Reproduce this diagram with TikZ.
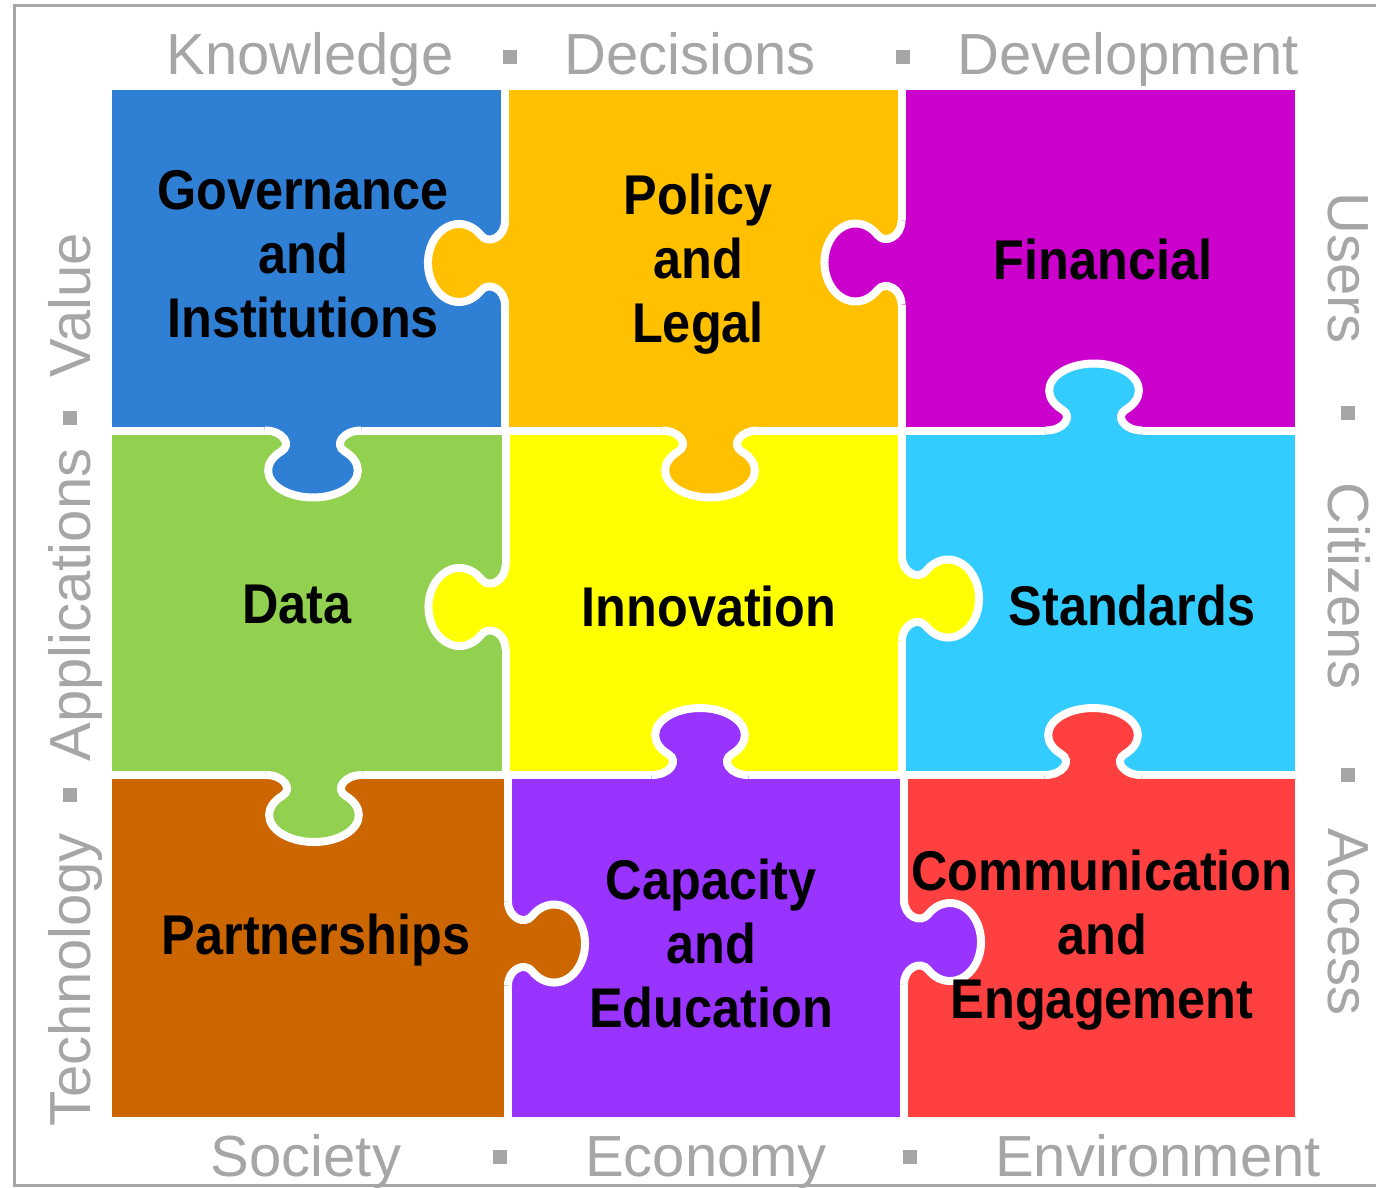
\documentclass[tikz,border=0pt]{standalone}
\usepackage{fontspec}
\setmainfont{Liberation Sans}
\newfontfamily\puzzlefont[FakeStretch=0.9]{Liberation Sans}
\usetikzlibrary{calc}
\definecolor{governance}{HTML}{2F80D5}
\definecolor{policy}{HTML}{FFC000}
\definecolor{financial}{HTML}{CC00CC}
\definecolor{data}{HTML}{92D050}
\definecolor{innovation}{HTML}{FFFF00}
\definecolor{standards}{HTML}{33CCFF}
\definecolor{partnerships}{HTML}{CC6600}
\definecolor{capacity}{HTML}{9933FF}
\definecolor{communication}{HTML}{FF4040}
\definecolor{sidegray}{HTML}{A6A6A6}
\def\knob[#1](#2)(#3){\begin{scope}[shift={(#2)}, xscale=1.15, rotate=#3]
		\fill[#1] (-42,-5) -- (-42,0) .. controls (-26,0) and (-18,14.2) .. (-27.6,20.9) arc[start angle=225, end angle=-45, x radius=39, y radius=27] .. controls (18,14.2) and (26,0) .. (42,0) -- (42,-5) -- cycle;
		\draw[white, line width=8pt] (-42,0) .. controls (-26,0) and (-18,14.2) .. (-27.6,20.9) arc[start angle=225, end angle=-45, x radius=39, y radius=27] .. controls (18,14.2) and (26,0) .. (42,0);
	\end{scope}}

\begin{document}
\begin{tikzpicture}[x=1pt, y=-1pt,
		lab/.style={font=\puzzlefont\bfseries\fontsize{56}{64}\selectfont, align=center, inner sep=0},
		side/.style={font=\fontsize{58}{64}\selectfont, text=sidegray, inner sep=0, anchor=base},
		sep/.style={fill=sidegray, minimum size=14pt, inner sep=0}]
		%%%%% START %%%%%
		\useasboundingbox (0,0) rectangle (1376,1187);
		\draw[line width=3pt, color=sidegray] (14.5,5.5) rectangle (1400,1185.5);
		
		\fill[governance] (112,90) rectangle (505,430.5);
		\fill[policy] (505,90) rectangle (901.5,430.5);
		\fill[financial] (901.5,90) rectangle (1295,430.5);
		\fill[data] (112,430.5) rectangle (505.5,775);
		\fill[innovation] (505.5,430.5) rectangle (902,775);
		\fill[standards] (902,430.5) rectangle (1295,775);
		\fill[partnerships] (112,775) rectangle (508,1117);
		\fill[capacity] (508,775) rectangle (904,1117);
		\fill[communication] (904,775) rectangle (1295,1117);
		
		\draw[white, line width=8pt] (112,430.5) -- (1295,430.5);
		\draw[white, line width=8pt] (112,775) -- (1295,775);
		\draw[white, line width=8pt] (505,90) -- (505,430.5);
		\draw[white, line width=8pt] (901.5,90) -- (901.5,430.5);
		\draw[white, line width=8pt] (505.5,430.5) -- (505.5,775);
		\draw[white, line width=8pt] (902,430.5) -- (902,775);
		\draw[white, line width=8pt] (508,775) -- (508,1117);
		\draw[white, line width=8pt] (904,775) -- (904,1117);
		
		\knob[policy](505,263)(-90)
		\knob[financial](901.5,262.5)(-90)
		\knob[governance](313,430.5)(0)
		\knob[policy](710,430.5)(0)
		\knob[standards](1094,430.5)(180)
		\knob[innovation](505.5,607)(-90)
		\knob[innovation](902,598.5)(90)
		\knob[capacity](700,775)(180)
		\knob[communication](1093,775)(180)
		\knob[data](314,775)(0)
		\knob[partnerships](508,943.5)(90)
		\knob[capacity](904,942)(90)
		
		\node[lab] (gov) at (303,254) {Governance\\and\\Institutions};
		\node[lab] (pol) at (698,264) {Policy\\and\\Legal};
		\node[lab] (fin) at (1103,259) {Financial};
		\node[lab] (dat) at (297,604) {Data};
		\node[lab] (inn) at (709,606) {Innovation};
		\node[lab] (sta) at (1132,605) {Standards};
		\node[lab] (par) at (316,940) {Partnerships};
		\node[lab] (cap) at (711,943) {Capacity\\and\\Education};
		\node[lab] (com) at (1102,940) {Communication\\and\\Engagement};
		
		\node[side] (know) at (310,74) {Knowledge};
		\node[sep] (t1) at (510,57) {};
		\node[side] (deci) at (690,74) {Decisions};
		\node[sep] (t2) at (903,57) {};
		\node[side] (deve) at (1128,74) {Development};
		
		\node[side] (soci) at (306,1176) {Society};
		\node[sep] (b1) at (500,1157) {};
		\node[side] (econ) at (706,1176) {Economy};
		\node[sep] (b2) at (910,1157) {};
		\node[side] (envi) at (1158,1176) {Environment};
		
		\node[side, rotate=90] (tech) at (90,980) {Technology};
		\node[sep] (l1) at (70,795) {};
		\node[side, rotate=90] (appl) at (90,605) {Applications};
		\node[sep] (l2) at (70,418) {};
		\node[side, rotate=90] (valu) at (90,305) {Value};
		
		\node[side, rotate=-90] (user) at (1328,268) {Users};
		\node[sep] (r1) at (1348,413) {};
		\node[side, rotate=-90] (citi) at (1328,586) {Citizens};
		\node[sep] (r2) at (1348,775) {};
		\node[side, rotate=-90] (acce) at (1328,922) {Access};
		%%%%% END %%%%%
\end{tikzpicture}
\end{document}
